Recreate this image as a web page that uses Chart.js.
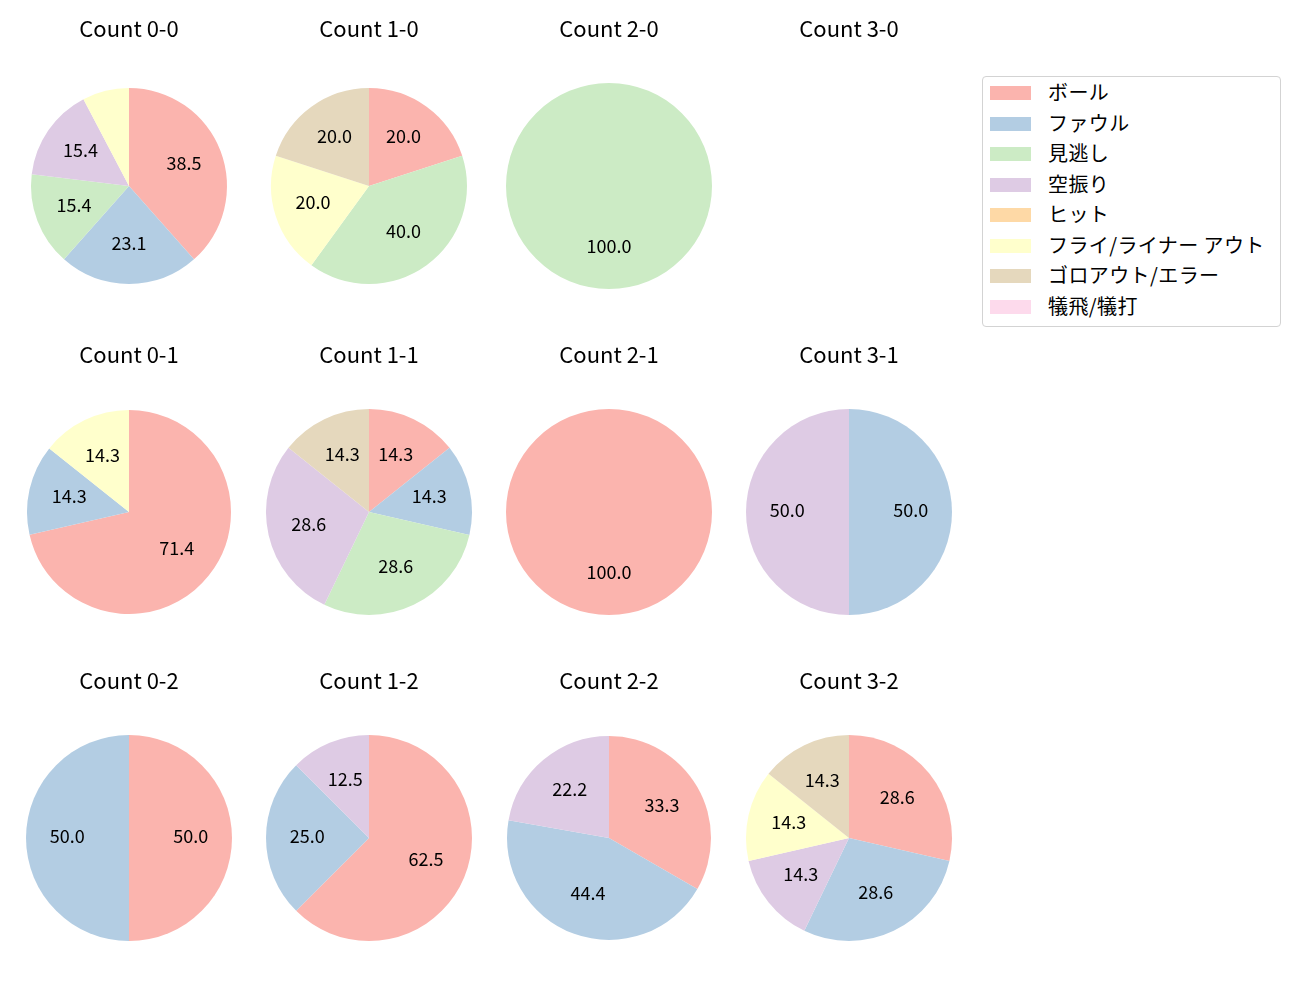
<!DOCTYPE html>
<html>
<head>
<meta charset="utf-8">
<script src="https://cdn.jsdelivr.net/npm/chart.js@4"></script>
<style>
  body { margin: 0; background: #fff; font-family: "Noto Sans CJK JP", sans-serif; }
  #wrap { position: relative; width: 1300px; height: 1000px; }
  #wrap canvas { position: absolute; }
  #legend {
    position: absolute; left: 982px; top: 76px; width: 297px; height: 249px;
    border: 1px solid #d3d3d3; border-radius: 4px; background: #fff;
  }
  .item { position: absolute; left: 0; width: 100%; height: 30px; }
  .patch { position: absolute; left: 7px; top: 8px; width: 41px; height: 14px; }
  .label { position: absolute; left: 65px; top: -1px; line-height: 30px; font-size: 20px; color: #000; white-space: nowrap; letter-spacing: 0.4px; }
</style>
</head>
<body>
<div id="wrap">
  <div id="legend"></div>
</div>
<script>
// 結果カテゴリと色（Pastel1）
const categories = ["ボール", "ファウル", "見逃し", "空振り", "ヒット", "フライ/ライナー アウト", "ゴロアウト/エラー", "犠飛/犠打"];
const colors = ["#fbb4ae", "#b3cde3", "#ccebc5", "#decbe4", "#fed9a6", "#ffffcc", "#e5d8bd", "#fddaec"];

// カウント別の件数（categories の順）
const count00 = [5, 3, 2, 2, 0, 1, 0, 0];
const count10 = [1, 0, 2, 0, 0, 1, 1, 0];
const count20 = [0, 0, 1, 0, 0, 0, 0, 0];
const count30 = [0, 0, 0, 0, 0, 0, 0, 0];
const count01 = [5, 1, 0, 0, 0, 1, 0, 0];
const count11 = [1, 1, 2, 2, 0, 0, 1, 0];
const count21 = [1, 0, 0, 0, 0, 0, 0, 0];
const count31 = [0, 1, 0, 1, 0, 0, 0, 0];
const count02 = [1, 1, 0, 0, 0, 0, 0, 0];
const count12 = [5, 2, 0, 1, 0, 0, 0, 0];
const count22 = [3, 4, 0, 2, 0, 0, 0, 0];
const count32 = [2, 2, 0, 1, 0, 1, 1, 0];

const colX = [129, 369, 609, 849];
const rowY = [186, 512, 838];

const panels = [
  { title: "Count 0-0", data: count00, col: 0, row: 0, r: 98 },
  { title: "Count 1-0", data: count10, col: 1, row: 0, r: 98 },
  { title: "Count 2-0", data: count20, col: 2, row: 0, r: 103 },
  { title: "Count 3-0", data: count30, col: 3, row: 0, r: 103 },
  { title: "Count 0-1", data: count01, col: 0, row: 1, r: 102 },
  { title: "Count 1-1", data: count11, col: 1, row: 1, r: 103 },
  { title: "Count 2-1", data: count21, col: 2, row: 1, r: 103 },
  { title: "Count 3-1", data: count31, col: 3, row: 1, r: 103 },
  { title: "Count 0-2", data: count02, col: 0, row: 2, r: 103 },
  { title: "Count 1-2", data: count12, col: 1, row: 2, r: 103 },
  { title: "Count 2-2", data: count22, col: 2, row: 2, r: 102 },
  { title: "Count 3-2", data: count32, col: 3, row: 2, r: 103 }
];

// パーセント表示（半径の0.6の位置、10%未満は非表示）
const pctLabels = {
  id: "pctLabels",
  afterDatasetsDraw(chart) {
    const data = chart.data.datasets[0].data;
    const total = data.reduce((a, b) => a + b, 0);
    if (!total) return;
    const ctx = chart.ctx;
    ctx.save();
    ctx.font = '18px "Noto Sans CJK JP"';
    ctx.fillStyle = "#000";
    ctx.textAlign = "center";
    ctx.textBaseline = "middle";
    chart.getDatasetMeta(0).data.forEach((arc, i) => {
      const pct = data[i] / total * 100;
      if (pct < 10) return;
      const p = arc.getProps(["x", "y", "startAngle", "endAngle", "outerRadius"], true);
      const mid = (p.startAngle + p.endAngle) / 2;
      // middle基準だと少し下がるので2px上げる
      ctx.fillText(pct.toFixed(1), p.x + Math.cos(mid) * p.outerRadius * 0.6, p.y + Math.sin(mid) * p.outerRadius * 0.6 - 2);
    });
    ctx.restore();
  }
};

const wrap = document.getElementById("wrap");
const titleSize = 22;
const lineH = titleSize * 1.2;

panels.forEach(p => {
  const cx = colX[p.col], cy = rowY[p.row];
  const top = cy - 177;
  const canvas = document.createElement("canvas");
  canvas.width = 240;
  canvas.height = 177 + p.r;
  canvas.style.left = (cx - 120) + "px";
  canvas.style.top = top + "px";
  wrap.appendChild(canvas);

  new Chart(canvas.getContext("2d"), {
    type: "pie",
    data: {
      labels: categories,
      datasets: [{ data: p.data, backgroundColor: colors, borderWidth: 0 }]
    },
    options: {
      responsive: false,
      animation: false,
      layout: { padding: 0 },
      plugins: {
        legend: { display: false },
        tooltip: { enabled: false },
        title: {
          display: true,
          text: p.title,
          color: "#000",
          font: { family: "Noto Sans CJK JP", size: titleSize, weight: "normal", lineHeight: 1.2 },
          padding: { top: 20 - lineH / 2, bottom: 177 - p.r - 20 - lineH / 2 }
        }
      }
    },
    plugins: [pctLabels]
  });
});

// 凡例
const legend = document.getElementById("legend");
categories.forEach((name, i) => {
  const item = document.createElement("div");
  item.className = "item";
  item.style.top = (1 + i * 30.5) + "px";
  item.innerHTML = `<div class="patch" style="background:${colors[i]}"></div><div class="label">${name}</div>`;
  legend.appendChild(item);
});
</script>
</body>
</html>
